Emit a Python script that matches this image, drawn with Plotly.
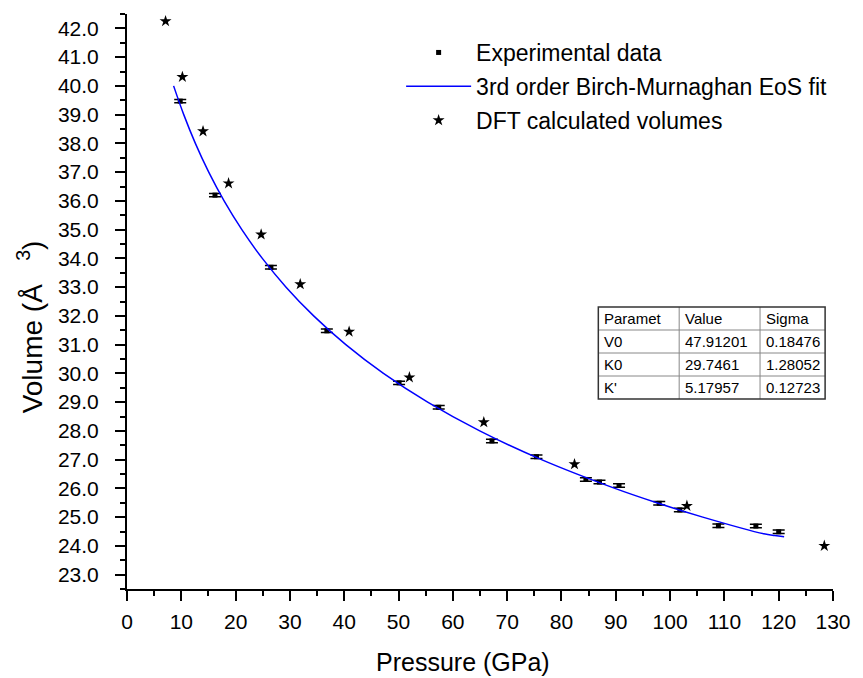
import plotly.graph_objects as go

# ---------------- data ----------------
exp_p = [9.8, 16.2, 26.5, 36.8, 50.1, 57.4, 67.2, 75.4, 84.5, 87.0, 90.6, 98.0, 101.8, 108.9, 115.8, 120.0]
exp_v = [39.47, 36.20, 33.69, 31.48, 29.67, 28.82, 27.65, 27.10, 26.31, 26.22, 26.10, 25.48, 25.25, 24.70, 24.69, 24.49]
exp_err = [0.06] * len(exp_p)

dft_p = [7.1, 10.2, 14.0, 18.7, 24.7, 31.9, 40.9, 52.0, 65.7, 82.4, 103.1, 128.4]
dft_v = [42.25, 40.31, 38.42, 36.61, 34.83, 33.10, 31.45, 29.86, 28.30, 26.84, 25.39, 24.00]

fit_p = [8.58, 10.45, 12.59, 15.05, 17.88, 21.15, 24.92, 29.29, 34.37, 40.29, 47.22,
         55.36, 64.95, 76.32, 89.84, 97.55, 106.02, 117.26, 119.27, 121.0]
fit_v = [40.0, 39.0, 38.0, 37.0, 36.0, 35.0, 34.0, 33.0, 32.0, 31.0, 30.0,
         29.0, 28.0, 27.0, 26.0, 25.5, 25.0, 24.42, 24.36, 24.32]

table_header = ["Paramet", "Value", "Sigma"]
table_params = ["V0", "K0", "K'"]
table_values = ["47.91201", "29.7461", "5.17957"]
table_sigmas = ["0.18476", "1.28052", "0.12723"]

x_title = "Pressure (GPa)"
y_title = "Volume (Å   <sup>3</sup>)"

# ---------------- layout geometry (pixels) ----------------
W, H = 863, 678
ML, MR, MT, MB = 127, 20, 14, 89
PW, PH = W - ML - MR, H - MT - MB


def px(x):
    return (x - ML) / PW


def py(y):
    return (H - MB - y) / PH


FONT = "Liberation Sans, Arial, sans-serif"

fig = go.Figure()

fig.add_trace(go.Scatter(
    x=exp_p, y=exp_v, mode="markers", name="Experimental data",
    marker=dict(symbol="square", size=5, color="black"),
    error_y=dict(type="data", array=exp_err, visible=True, color="black", thickness=1.5, width=6),
    legendgroup="a",
))
fig.add_trace(go.Scatter(
    x=fit_p, y=fit_v, mode="lines", name="3rd order Birch-Murnaghan EoS fit",
    line=dict(color="#0000FF", width=1.5, shape="spline"),
    legendgroup="b",
))
fig.add_trace(go.Scatter(
    x=dft_p, y=dft_v, mode="markers", name="DFT calculated volumes",
    marker=dict(symbol="star", size=9, color="black"),
    legendgroup="c",
))

# ---------------- table of fit parameters ----------------
tx0, tx1 = 605, 835
ty0, row_h = 307, 23
col_x = [605, 687, 769, 835]
nrows = 4
shapes = []
for r in range(1, nrows):
    yy = ty0 + r * row_h
    shapes.append(dict(type="line", xref="paper", yref="paper", x0=px(tx0), x1=px(tx1),
                       y0=py(yy), y1=py(yy), line=dict(color="#888888", width=1)))
for c in col_x[1:-1]:
    shapes.append(dict(type="line", xref="paper", yref="paper", x0=px(c), x1=px(c),
                       y0=py(ty0), y1=py(ty0 + nrows * row_h), line=dict(color="#888888", width=1)))
shapes.append(dict(type="rect", xref="paper", yref="paper", x0=px(tx0), x1=px(tx1),
                   y0=py(ty0), y1=py(ty0 + nrows * row_h), line=dict(color="#333333", width=1.5)))

annotations = []
rows = [table_header] + [[a, b, c] for a, b, c in zip(table_params, table_values, table_sigmas)]
for r, row in enumerate(rows):
    yc = ty0 + r * row_h + row_h / 2
    for c, txt in enumerate(row):
        annotations.append(dict(text=txt, xref="paper", yref="paper", x=px(col_x[c] + 4), y=py(yc),
                                xanchor="left", yanchor="middle", showarrow=False,
                                font=dict(family=FONT, size=15, color="black")))

# axis titles
annotations.append(dict(text=x_title, xref="paper", yref="paper", x=px(468), y=py(662),
                        xanchor="center", yanchor="middle", showarrow=False,
                        font=dict(family=FONT, size=25, color="black")))
annotations.append(dict(text=y_title, xref="paper", yref="paper", x=px(29), y=py(327),
                        xanchor="center", yanchor="middle", showarrow=False, textangle=-90,
                        font=dict(family=FONT, size=28, color="black")))

fig.update_layout(
    width=W, height=H,
    margin=dict(l=ML, r=MR, t=MT, b=MB, pad=0),
    paper_bgcolor="white", plot_bgcolor="white",
    font=dict(family=FONT, color="black"),
    showlegend=True,
    legend=dict(x=px(405), y=py(31), xanchor="left", yanchor="top",
                bgcolor="rgba(0,0,0,0)", font=dict(family=FONT, size=23, color="black"),
                itemwidth=65, tracegroupgap=1),
    shapes=shapes,
    annotations=annotations,
)

fig.update_xaxes(
    range=[0, 130], dtick=10, tick0=0, showgrid=False, zeroline=False,
    showline=True, linecolor="black", linewidth=2, mirror=False,
    ticks="outside", ticklen=10, tickwidth=2, tickcolor="black",
    minor=dict(dtick=5, ticks="outside", ticklen=5, tickwidth=2, tickcolor="black"),
    tickfont=dict(family=FONT, size=21, color="black"),
    ticklabelstandoff=3,
)
fig.update_yaxes(
    range=[22.5, 42.5], dtick=1, tick0=0, tickformat=".1f", showgrid=False, zeroline=False,
    showline=True, linecolor="black", linewidth=2, mirror=False,
    ticks="outside", ticklen=10, tickwidth=2, tickcolor="black",
    minor=dict(dtick=0.5, ticks="outside", ticklen=5, tickwidth=2, tickcolor="black"),
    tickfont=dict(family=FONT, size=21, color="black"),
    ticklabelstandoff=12,
)

fig.write_html("out.html")
